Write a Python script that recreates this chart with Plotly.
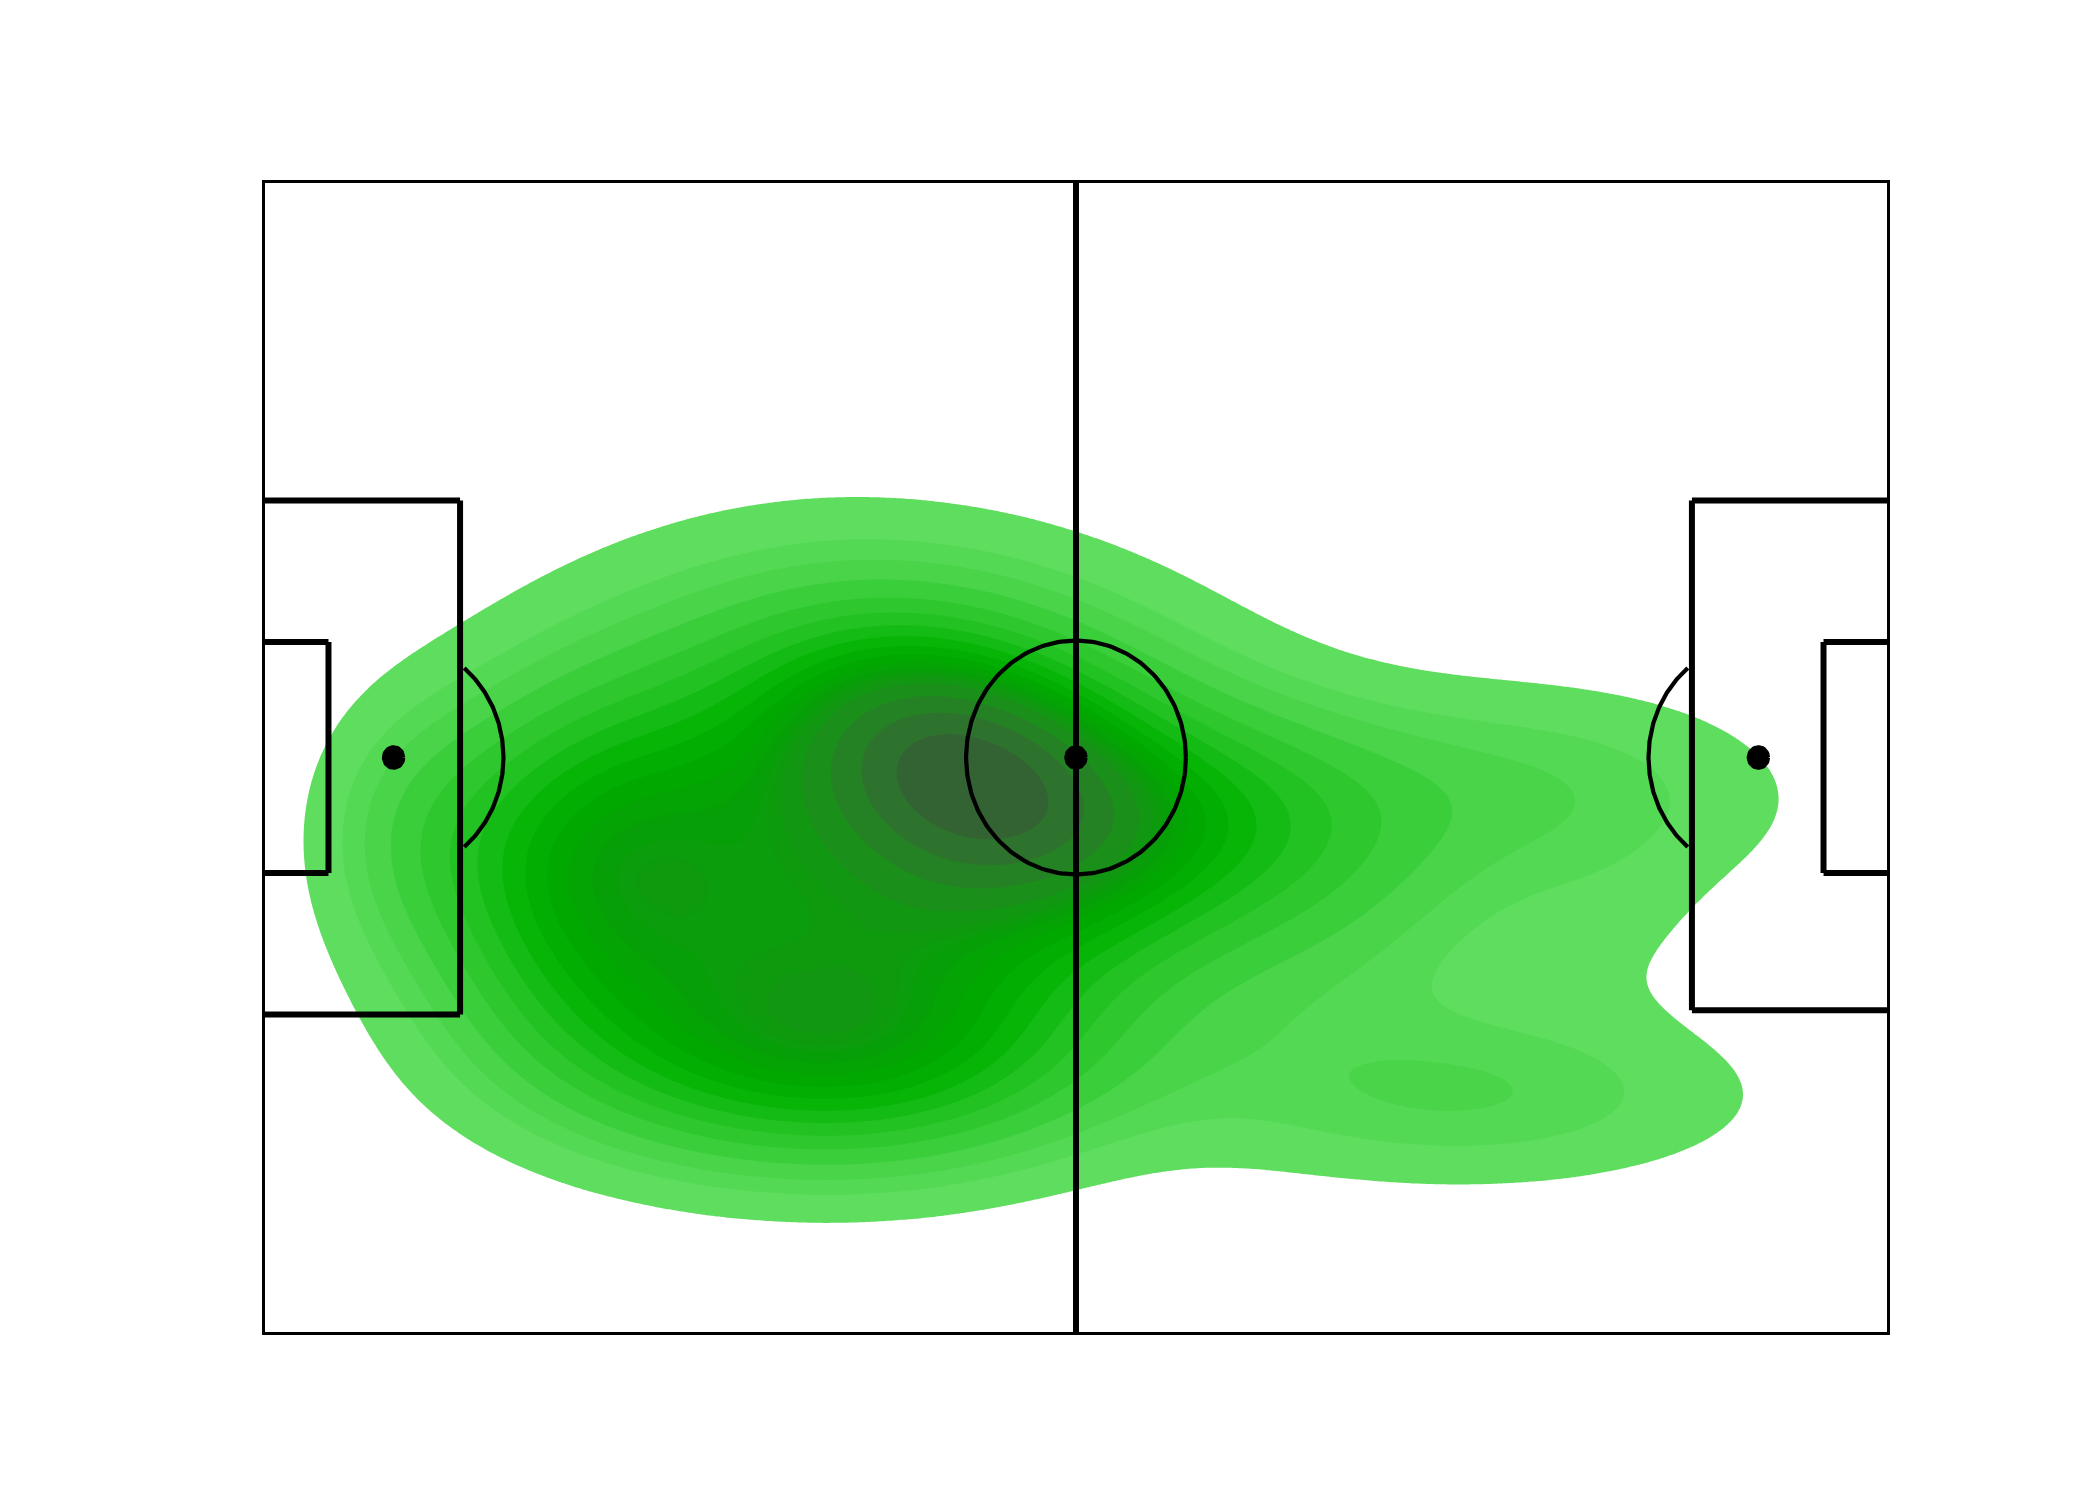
import math
import numpy as np
import plotly.graph_objects as go

# ---------------- data: density components (pitch units 120 x 80) ----------------
comp_x = [52, 49, 25, 41.5, 45, 11, 96, 89, 80, 100, 69, 24]
comp_y = [39.2, 38, 34, 20, 29, 35, 38, 16.5, 28, 28, 36, 26]
comp_sx = [8, 15, 9, 13, 14, 5, 12, 14, 10, 6, 12, 8]
comp_sy = [5.5, 9, 7, 5.5, 5, 6, 5, 4.2, 6, 5, 5, 6]
comp_rho = [-0.3, -0.15, 0, 0, 0, 0, -0.1, 0, 0, 0, 0, 0]
comp_w = [0.5, 0.5, 0.35, 0.5, 0.15, 0.07, 0.10, 0.12, 0.07, 0.03, 0.2, 0.12]

n_levels = 20
thresh = 0.035
base_color = (0.0, 128 / 255, 0.0)  # "green"

# ---------------- husl (seaborn's cmap-from-color) ----------------
_m = [[3.2406, -1.5372, -0.4986], [-0.9689, 1.8758, 0.0415], [0.0557, -0.2040, 1.0570]]
_m_inv = [[0.4124, 0.3576, 0.1805], [0.2126, 0.7152, 0.0722], [0.0193, 0.1192, 0.9505]]
refY, refU, refV = 1.0, 0.19784, 0.46834
lab_e, lab_k = 0.008856, 903.3


def max_chroma(L, H):
    hrad = math.radians(H)
    sinH, cosH = math.sin(hrad), math.cos(hrad)
    sub1 = (L + 16) ** 3 / 1560896.0
    sub2 = sub1 if sub1 > 0.008856 else L / 903.3
    result = float("inf")
    for m1, m2, m3 in _m:
        top = (0.99915 * m1 + 1.05122 * m2 + 1.14460 * m3) * sub2
        rbottom = 0.86330 * m3 - 0.17266 * m2
        lbottom = 0.12949 * m3 - 0.38848 * m1
        bottom = (rbottom * sinH + lbottom * cosH) * sub2
        for t in (0.0, 1.0):
            C = L * (top - 1.05122 * t) / (bottom + 0.17266 * sinH * t)
            if 0.0 < C < result:
                result = C
    return result


def f_inv(t):
    return t ** 3 if t ** 3 > lab_e else (116.0 * t - 16.0) / lab_k


def from_linear(c):
    return 12.92 * c if c <= 0.0031308 else 1.055 * c ** (1 / 2.4) - 0.055


def to_linear(c):
    return ((c + 0.055) / 1.055) ** 2.4 if c > 0.04045 else c / 12.92


def husl_to_rgb(h, s, l):
    if l > 99.9999999:
        L, C = 100.0, 0.0
    elif l < 1e-8:
        L, C = 0.0, 0.0
    else:
        L, C = l, max_chroma(l, h) / 100.0 * s
    if L == 0:
        return (0.0, 0.0, 0.0)
    U, V = math.cos(math.radians(h)) * C, math.sin(math.radians(h)) * C
    varY = f_inv((L + 16.0) / 116.0)
    varU = U / (13.0 * L) + refU
    varV = V / (13.0 * L) + refV
    Y = varY * refY
    X = -(9.0 * Y * varU) / ((varU - 4.0) * varV - varU * varV)
    Z = (9.0 * Y - 15.0 * varV * Y - varV * X) / (3.0 * varV)
    return tuple(from_linear(r[0] * X + r[1] * Y + r[2] * Z) for r in _m)


def rgb_to_husl(r, g, b):
    lin = [to_linear(c) for c in (r, g, b)]
    X, Y, Z = [sum(a * b for a, b in zip(row, lin)) for row in _m_inv]
    den = X + 15.0 * Y + 3.0 * Z
    varU, varV = 4.0 * X / den, 9.0 * Y / den
    ft = (Y / refY) ** (1 / 3) if Y / refY > lab_e else 7.787 * Y / refY + 16.0 / 116.0
    L = 116.0 * ft - 16.0
    U, V = 13.0 * L * (varU - refU), 13.0 * L * (varV - refV)
    C = math.hypot(U, V)
    H = math.degrees(math.atan2(V, U)) % 360
    S = C / max_chroma(L, H) * 100.0
    return H, S, L


h0, s0, _ = rgb_to_husl(*base_color)
xx = np.linspace(-1, 1, int(1.15 * 256))[:256]
ramp = [husl_to_rgb(h0, s0 * math.cos(a), l) for a, l in zip(xx, np.linspace(35, 80, 256))]
cmap = np.clip(np.array(ramp), 0, 1)[::-1]


def cmap_color(t):
    i = int(np.clip(math.floor(t * 256), 0, 255))
    r, g, b = (cmap[i] * 255).round().astype(int)
    return f"rgb({r},{g},{b})"


# ---------------- density ----------------
def density(X, Y):
    d = np.zeros_like(X)
    for cx, cy, sx, sy, rho, w in zip(comp_x, comp_y, comp_sx, comp_sy, comp_rho, comp_w):
        u = (X - cx) / sx
        v = (Y - cy) / sy
        q = (u * u - 2 * rho * u * v + v * v) / (1 - rho * rho)
        d += w * np.exp(-0.5 * q)
    return d


# iso-proportion levels (as seaborn does) computed on a wide grid
gx = np.linspace(-80, 200, 700)
gy = np.linspace(-70, 150, 550)
GX, GY = np.meshgrid(gx, gy)
dw = density(GX, GY)
vals = np.sort(dw.ravel())[::-1]
cum = np.cumsum(vals) / vals.sum()
props = np.linspace(thresh, 1, n_levels)
idx = np.searchsorted(cum, 1 - props)
levels = np.sort(np.take(vals, idx, mode="clip"))

# display grid
px = np.linspace(-1, 121, 611)
py = np.linspace(-1, 81, 411)
PX, PY = np.meshgrid(px, py)
dp = density(PX, PY)
z = np.interp(dp, levels, np.arange(n_levels, dtype=float))
below = dp < levels[0]
z[below] = (dp[below] - levels[0]) / (levels[1] - levels[0])

n_bands = n_levels - 1
layers = 0.5 * (levels[:-1] + levels[1:])
tvals = (layers - levels[0]) / (levels[-1] - levels[0])
colorscale = [[0.0, "rgba(255,255,255,0)"]]
for k in range(n_bands):
    colorscale.append([(k + 1) / n_bands, cmap_color(tvals[k])])

fig = go.Figure()
fig.add_trace(go.Contour(
    x=px, y=py, z=z,
    autocontour=False,
    contours=dict(start=0, end=n_bands - 1, size=1, coloring="fill", showlines=False),
    colorscale=colorscale,
    showscale=False,
    line=dict(width=0),
    hoverinfo="skip",
))

# ---------------- pitch (120 x 80) ----------------
LW = 6
CW = 4.2
pitch_lines = [
    ([0, 0], [0, 80]), ([0, 120], [80, 80]), ([120, 120], [80, 0]), ([120, 0], [0, 0]),
    ([60, 60], [0, 80]),
    ([14.6, 14.6], [57.8, 22.2]), ([0, 14.6], [57.8, 57.8]), ([0, 14.6], [22.2, 22.2]),
    ([120, 105.4], [57.8, 57.8]), ([105.4, 105.4], [57.8, 22.5]), ([120, 105.4], [22.5, 22.5]),
    ([0, 4.9], [48, 48]), ([4.9, 4.9], [48, 32]), ([0, 4.9], [32, 32]),
    ([120, 115.1], [48, 48]), ([115.1, 115.1], [48, 32]), ([120, 115.1], [32, 32]),
]
for lx, ly in pitch_lines:
    fig.add_trace(go.Scatter(x=lx, y=ly, mode="lines", line=dict(color="black", width=LW),
                             hoverinfo="skip", showlegend=False))

# penalty arcs and centre circle
for cx, t1, t2 in [(9.7, -50, 50), (110.3, 130, 230), (60, 0, 360)]:
    th = np.radians(np.linspace(t1, t2, 200))
    fig.add_trace(go.Scatter(x=cx + 8.1 * np.cos(th), y=40 + 8.1 * np.sin(th), mode="lines",
                             line=dict(color="black", width=CW), hoverinfo="skip", showlegend=False))

# spots
th = np.radians(np.linspace(0, 360, 60))
for cx in [60, 9.7, 110.3]:
    fig.add_trace(go.Scatter(x=cx + 0.71 * np.cos(th), y=40 + 0.71 * np.sin(th), mode="lines",
                             fill="toself", fillcolor="black",
                             line=dict(color="black", width=CW), hoverinfo="skip", showlegend=False))

fig.update_layout(
    width=2100, height=1500, autosize=False,
    margin=dict(l=254, r=218, t=172, b=173),
    paper_bgcolor="white", plot_bgcolor="white",
    showlegend=False,
    xaxis=dict(range=[0, 120], visible=False, showgrid=False, zeroline=False),
    yaxis=dict(range=[0, 80], visible=False, showgrid=False, zeroline=False),
)
fig.write_html("out.html")
